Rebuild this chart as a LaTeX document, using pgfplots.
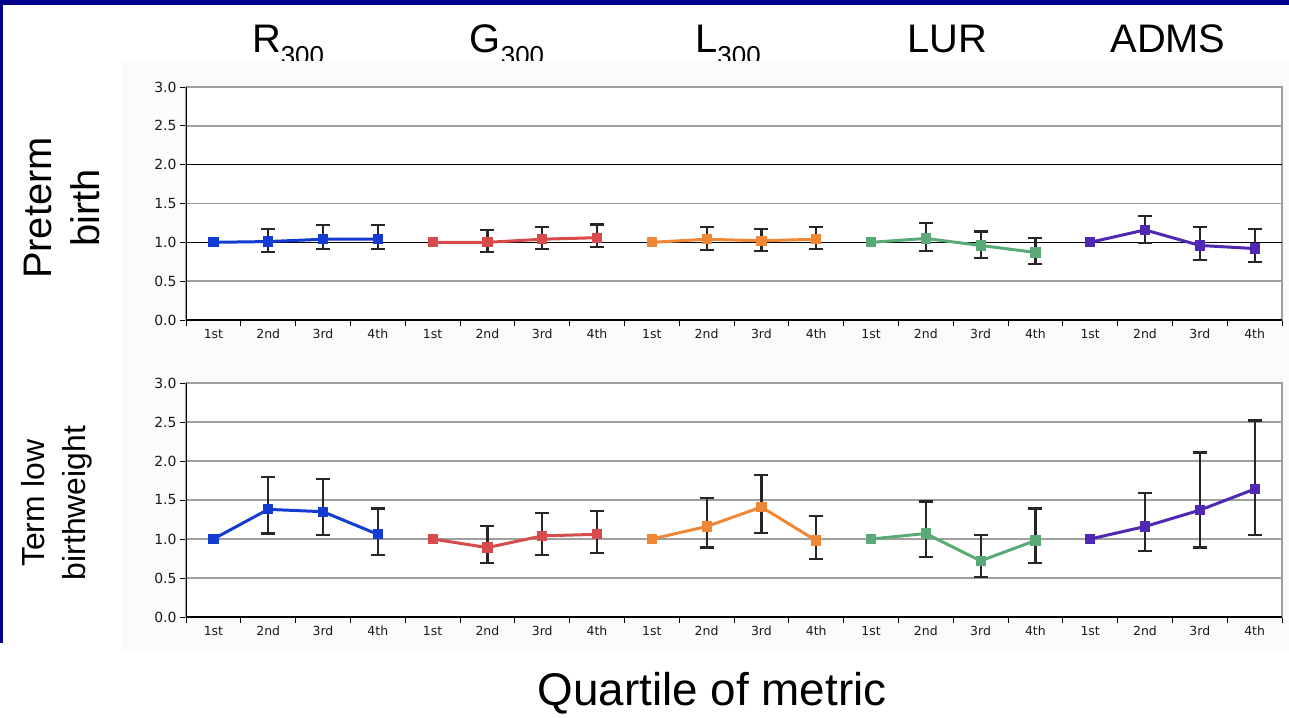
\documentclass[border=0pt]{standalone}
\usepackage{fontspec}
\setmainfont{Liberation Sans}
\newfontfamily\tickfont{DejaVu Sans}
\usepackage{pgfplots}
\usepackage{pgfplotstable}
\pgfplotsset{compat=1.18}

\definecolor{navy}{RGB}{0,0,140}
\definecolor{cR}{RGB}{20,60,210}
\definecolor{cG}{RGB}{215,75,75}
\definecolor{cL}{RGB}{240,135,55}
\definecolor{cLUR}{RGB}{90,170,120}
\definecolor{cADMS}{RGB}{80,40,180}

% x: quartile slot (4 per metric), y: estimate, hi/lo: interval
\pgfplotstableread{
x  y    hi   lo
0  1.00 1.00 1.00
1  1.01 1.17 0.88
2  1.04 1.22 0.91
3  1.04 1.22 0.91
4  1.00 1.00 1.00
5  1.00 1.16 0.88
6  1.04 1.20 0.91
7  1.06 1.23 0.94
8  1.00 1.00 1.00
9  1.04 1.20 0.90
10 1.02 1.17 0.89
11 1.04 1.20 0.91
12 1.00 1.00 1.00
13 1.05 1.25 0.89
14 0.96 1.14 0.80
15 0.87 1.06 0.72
16 1.00 1.00 1.00
17 1.16 1.34 0.99
18 0.96 1.20 0.77
19 0.92 1.17 0.75
}\preterm

\pgfplotstableread{
x  y    hi   lo
0  1.00 1.00 1.00
1  1.38 1.79 1.07
2  1.35 1.77 1.05
3  1.06 1.39 0.79
4  1.00 1.00 1.00
5  0.89 1.17 0.69
6  1.04 1.33 0.79
7  1.06 1.36 0.82
8  1.00 1.00 1.00
9  1.16 1.53 0.89
10 1.41 1.82 1.08
11 0.98 1.30 0.74
12 1.00 1.00 1.00
13 1.07 1.48 0.77
14 0.72 1.05 0.51
15 0.98 1.39 0.69
16 1.00 1.00 1.00
17 1.16 1.59 0.85
18 1.37 2.11 0.89
19 1.64 2.52 1.05
}\lowbw

\pgfplotsset{
  quart/.style={
    scale only axis, width=1096bp,
    xmin=-0.5, xmax=19.5, ymin=0, ymax=3,
    xtick={0,...,19},
    xticklabels={1st,2nd,3rd,4th,1st,2nd,3rd,4th,1st,2nd,3rd,4th,
                 1st,2nd,3rd,4th,1st,2nd,3rd,4th},
    minor xtick={-0.5,0.5,...,19.5},
    major x tick style={draw=none},
    minor x tick style={black, line width=1bp},
    minor tick length=6bp, major tick length=6bp,
    tick align=outside, xtick pos=bottom, ytick pos=left,
    tick style={black, line width=1bp},
    ytick={0,0.5,1,1.5,2,2.5,3},
    ymajorgrids, grid style={gray!75, line width=1.5bp},
    axis line style={gray!75, line width=1.5bp},
    axis background/.style={fill=white},
    yticklabel style={font=\tickfont\fontsize{14}{14}\selectfont, text=black!90,
      /pgf/number format/.cd, fixed, fixed zerofill, precision=1, assume math mode=true},
    xticklabel style={font=\tickfont\fontsize{12.5}{12.5}\selectfont, text=black!90},
  },
  ci/.style={black, only marks, mark=none,
    x filter/.expression={mod(x,4)==0 ? nan : x},
    error bars/.cd, y dir=both, y explicit, error mark=|,
    error bar style={line width=2.2bp, black!85},
    error mark options={line width=2.2bp, black!85, mark size=7bp}},
  est/.style={#1, line width=3bp, mark=square*, mark size=3.6bp,
    mark options={solid, fill=#1}},
}

\newcommand{\ttl}[3]{\node[anchor=base, font=\fontsize{40}{48}\selectfont] at (#1bp,-52bp)
  {#2\raisebox{-12bp}{\fontsize{26}{26}\selectfont #3}};}

\begin{document}
\begin{tikzpicture}
\fill[white] (0,0) rectangle (1289bp,-718bp);

\ttl{288}{R}{300}
\ttl{507}{G}{300}
\ttl{728}{L}{300}
\ttl{947}{LUR}{}
\ttl{1168}{ADMS}{}

\fill[black!1.5] (122bp,-61bp) rectangle (1289bp,-652bp);
\fill[navy] (0,0) rectangle (1289bp,-5bp);
\fill[navy] (0,0) rectangle (3bp,-643bp);

\begin{axis}[quart, height=233bp, at={(186bp,-320bp)}, anchor=south west]
\draw[black, line width=1.6bp] (axis cs:-0.5,2) -- (axis cs:19.5,2);
\draw[black, line width=1.6bp] (axis cs:-0.5,1) -- (axis cs:19.5,1);
\addplot[ci] table[x=x, y=y, y error plus expr=\thisrow{hi}-\thisrow{y},
  y error minus expr=\thisrow{y}-\thisrow{lo}] {\preterm};
\addplot[est=cR, restrict x to domain=0:3] table[x=x, y=y] {\preterm};
\addplot[est=cG, restrict x to domain=4:7] table[x=x, y=y] {\preterm};
\addplot[est=cL, restrict x to domain=8:11] table[x=x, y=y] {\preterm};
\addplot[est=cLUR, restrict x to domain=12:15] table[x=x, y=y] {\preterm};
\addplot[est=cADMS, restrict x to domain=16:19] table[x=x, y=y] {\preterm};
\draw[black, line width=1.5bp] (rel axis cs:0,1) -- (rel axis cs:0,0) -- (rel axis cs:1,0);
\end{axis}

\begin{axis}[quart, height=234bp, at={(186bp,-617bp)}, anchor=south west]
\addplot[ci] table[x=x, y=y, y error plus expr=\thisrow{hi}-\thisrow{y},
  y error minus expr=\thisrow{y}-\thisrow{lo}] {\lowbw};
\addplot[est=cR, restrict x to domain=0:3] table[x=x, y=y] {\lowbw};
\addplot[est=cG, restrict x to domain=4:7] table[x=x, y=y] {\lowbw};
\addplot[est=cL, restrict x to domain=8:11] table[x=x, y=y] {\lowbw};
\addplot[est=cLUR, restrict x to domain=12:15] table[x=x, y=y] {\lowbw};
\addplot[est=cADMS, restrict x to domain=16:19] table[x=x, y=y] {\lowbw};
\draw[black, line width=1.5bp] (rel axis cs:0,1) -- (rel axis cs:0,0) -- (rel axis cs:1,0);
\end{axis}

\node[rotate=90, align=center, font=\fontsize{40}{49}\selectfont] at (62bp,-208bp)
  {Preterm\\birth};
\node[rotate=90, align=center, font=\fontsize{32}{41}\selectfont] at (57bp,-503bp)
  {Term low\\birthweight};
\node[anchor=base, font=\fontsize{46}{54}\selectfont] at (712bp,-705bp) {Quartile of metric};
\end{tikzpicture}
\end{document}
